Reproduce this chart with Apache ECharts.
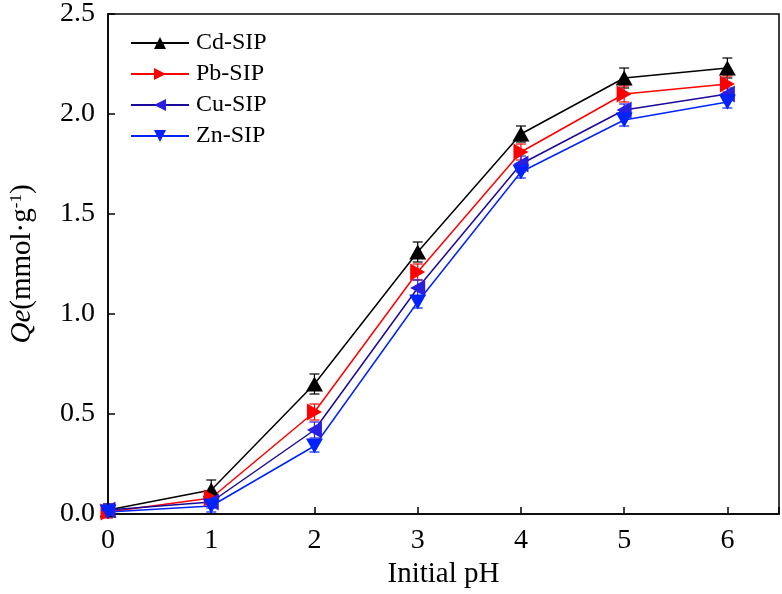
<!DOCTYPE html>
<html>
<head>
<meta charset="utf-8">
<script src="https://cdn.jsdelivr.net/npm/echarts@6/dist/echarts.min.js"></script>
<style>html,body{margin:0;padding:0;background:#fff}#c{width:782px;height:594px}</style>
</head>
<body>
<div id="c"></div>
<script>
const phValues = [0, 1, 2, 3, 4, 5, 6];
const seriesNames = ['Cd-SIP', 'Pb-SIP', 'Cu-SIP', 'Zn-SIP'];
const cdValues = [0.02, 0.12, 0.65, 1.31, 1.90, 2.18, 2.23];
const pbValues = [0.01, 0.08, 0.51, 1.21, 1.81, 2.10, 2.15];
const cuValues = [0.02, 0.06, 0.42, 1.13, 1.75, 2.02, 2.10];
const znValues = [0.01, 0.04, 0.34, 1.06, 1.71, 1.97, 2.06];
const cdErr = [0.03, 0.05, 0.05, 0.05, 0.04, 0.05, 0.05];
const pbErr = [0.03, 0.03, 0.04, 0.04, 0.04, 0.04, 0.04];
const cuErr = [0.03, 0.03, 0.04, 0.04, 0.04, 0.03, 0.03];
const znErr = [0.02, 0.03, 0.03, 0.03, 0.03, 0.03, 0.03];
const yTicks = [0, 0.5, 1.0, 1.5, 2.0, 2.5];

const allValues = [cdValues, pbValues, cuValues, znValues];
const allErr = [cdErr, pbErr, cuErr, znErr];
const lineColors = ['#000000', '#ff0000', '#1a0a99', '#0022ff'];
const markColors = ['#000000', '#ff0000', '#2a1ee0', '#0022ff'];
const rotations = [0, -90, 90, 180];

const chart = echarts.init(document.getElementById('c'));
const font = 'Liberation Serif, Times New Roman, serif';

const series = [];
allValues.forEach((vals, i) => {
  series.push({
    type: 'custom',
    name: seriesNames[i] + '-err',
    silent: true,
    z: 1,
    data: phValues.map((x, j) => [x, vals[j] - allErr[i][j], vals[j] + allErr[i][j]]),
    renderItem: function (params, api) {
      const x = api.value(0);
      const lo = api.coord([x, api.value(1)]);
      const hi = api.coord([x, api.value(2)]);
      const w = 5;
      const st = { stroke: markColors[i], lineWidth: 1.2 };
      return {
        type: 'group',
        children: [
          { type: 'line', shape: { x1: hi[0], y1: hi[1], x2: lo[0], y2: lo[1] }, style: st },
          { type: 'line', shape: { x1: hi[0] - w, y1: hi[1], x2: hi[0] + w, y2: hi[1] }, style: st },
          { type: 'line', shape: { x1: lo[0] - w, y1: lo[1], x2: lo[0] + w, y2: lo[1] }, style: st }
        ]
      };
    }
  });
});
allValues.forEach((vals, i) => {
  series.push({
    type: 'line',
    name: seriesNames[i],
    data: phValues.map((x, j) => [x, vals[j]]),
    symbol: 'triangle',
    symbolSize: [17, 15],
    symbolRotate: rotations[i],
    showAllSymbol: true,
    z: 3,
    lineStyle: { color: lineColors[i], width: 1.5 },
    itemStyle: { color: markColors[i], borderWidth: 0 },
    emphasis: { disabled: true },
    animation: false
  });
});

chart.setOption({
  animation: false,
  backgroundColor: '#fff',
  grid: { left: 106, right: 3, top: 13, bottom: 80, show: true, borderColor: '#000', borderWidth: 1.5 },
  legend: {
    data: seriesNames,
    orient: 'vertical',
    left: 125,
    top: 26,
    itemGap: 7,
    itemWidth: 58,
    itemHeight: 15,
    symbolRotate: 'inherit',
    textStyle: { fontFamily: font, fontSize: 24, color: '#000', padding: [0, 0, 0, 2] }
  },
  xAxis: {
    type: 'value',
    min: 0,
    max: 6.5,
    interval: 1,
    name: 'Initial pH',
    nameLocation: 'middle',
    nameGap: 45,
    nameTextStyle: { fontFamily: font, fontSize: 29, color: '#000' },
    axisLine: { onZero: false, lineStyle: { color: '#000', width: 1.5 } },
    axisTick: { inside: true, length: 7, lineStyle: { color: '#000', width: 1.5 } },
    axisLabel: {
      margin: 13, fontFamily: font, fontSize: 28, color: '#000',
      formatter: v => (phValues.includes(v) ? String(v) : '')
    },
    splitLine: { show: false }
  },
  yAxis: {
    type: 'value',
    min: 0,
    max: 2.5,
    interval: 0.5,
    name: '{i|Qe}{n|(mmol·g}{s|-1}{n|)}',
    nameLocation: 'middle',
    nameGap: 71,
    nameRotate: 90,
    nameTextStyle: {
      fontFamily: font, fontSize: 29, color: '#000',
      rich: {
        i: { fontFamily: font, fontSize: 29, fontStyle: 'italic', color: '#000' },
        n: { fontFamily: font, fontSize: 29, color: '#000' },
        s: { fontFamily: font, fontSize: 17, color: '#000', verticalAlign: 'top', padding: [0, 0, 12, 0] }
      }
    },
    axisLine: { onZero: false, lineStyle: { color: '#000', width: 1.5 } },
    axisTick: { inside: true, length: 7, lineStyle: { color: '#000', width: 1.5 } },
    axisLabel: {
      margin: 13, fontFamily: font, fontSize: 28, color: '#000',
      formatter: v => yTicks.some(t => Math.abs(t - v) < 1e-9) ? v.toFixed(1) : ''
    },
    splitLine: { show: false }
  },
  series: series
});
</script>
</body>
</html>
